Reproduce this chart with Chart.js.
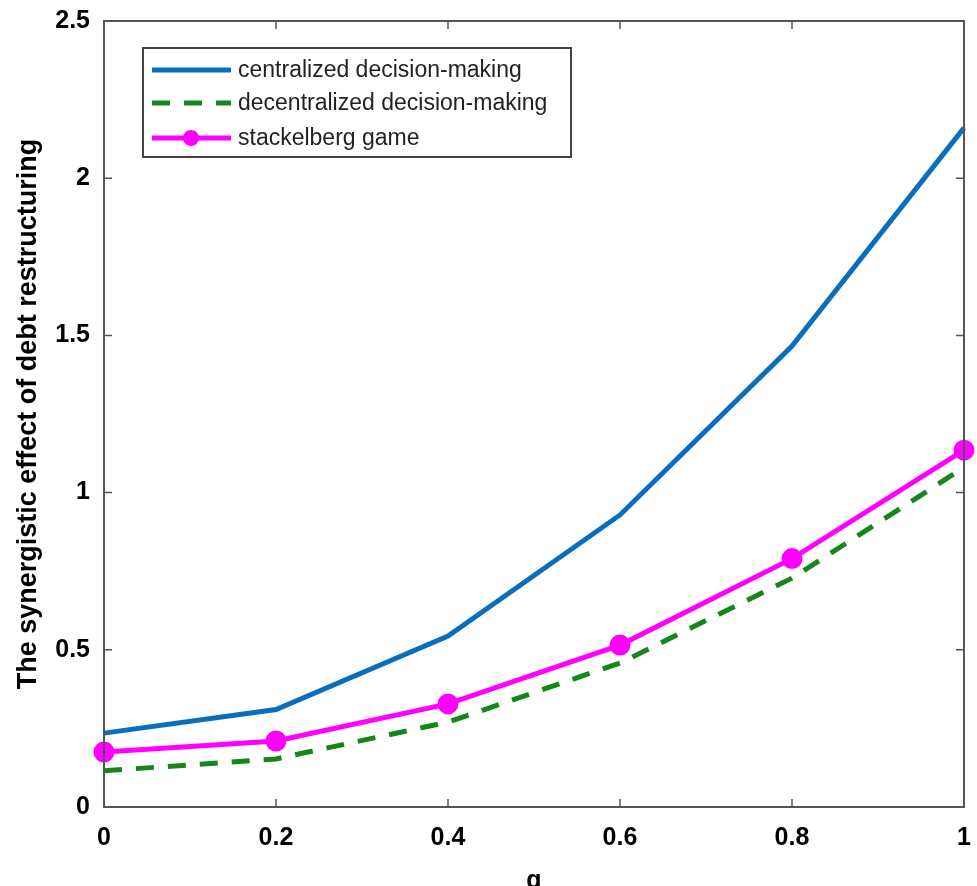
<!DOCTYPE html>
<html>
<head>
<meta charset="utf-8">
<script src="https://cdn.jsdelivr.net/npm/chart.js@4/dist/chart.umd.min.js"></script>
<style>
  html, body { margin: 0; padding: 0; background: #fff; }
  #wrap { width: 977px; height: 886px; }
</style>
</head>
<body>
<div id="wrap"><canvas id="graph"></canvas></div>
<script>
// ค่าแกน x (q)
const qValues = [0, 0.2, 0.4, 0.6, 0.8, 1];

// ค่าที่อ่านจากรูป
const centralized = [0.235, 0.31, 0.544, 0.929, 1.466, 2.16];
const decentralized = [0.115, 0.153, 0.27, 0.458, 0.728, 1.08];
const stackelberg = [0.175, 0.21, 0.328, 0.515, 0.79, 1.135];

const seriesNames = ["centralized decision-making", "decentralized decision-making", "stackelberg game"];
const xTicks = [0, 0.2, 0.4, 0.6, 0.8, 1];
const yTicks = [0, 0.5, 1, 1.5, 2, 2.5];

function toPoints(ys) {
    return qValues.map((q, i) => ({ x: q, y: ys[i] }));
}

const tickFont = { family: "'Liberation Sans', Arial, sans-serif", size: 25, weight: "bold" };

// กรอบ + ขีด tick ด้านใน แบบ MATLAB
const boxTicks = {
    id: "boxTicks",
    afterDraw(chart) {
        const { ctx, chartArea: a, scales } = chart;
        ctx.save();
        ctx.strokeStyle = "#555";
        ctx.lineWidth = 2;
        ctx.strokeRect(a.left, a.top, a.right - a.left, a.bottom - a.top);
        ctx.lineWidth = 1.5;
        const len = 8;
        xTicks.forEach(v => {
            const px = scales.x.getPixelForValue(v);
            ctx.beginPath();
            ctx.moveTo(px, a.bottom); ctx.lineTo(px, a.bottom - len);
            ctx.moveTo(px, a.top); ctx.lineTo(px, a.top + len);
            ctx.stroke();
        });
        yTicks.forEach(v => {
            const py = scales.y.getPixelForValue(v);
            ctx.beginPath();
            ctx.moveTo(a.left, py); ctx.lineTo(a.left + len, py);
            ctx.moveTo(a.right, py); ctx.lineTo(a.right - len, py);
            ctx.stroke();
        });
        ctx.restore();
    }
};

// legend ในพื้นที่กราฟ
const innerLegend = {
    id: "innerLegend",
    afterDraw(chart) {
        const { ctx, chartArea: a } = chart;
        const x0 = a.left + 39, y0 = a.top + 27, w = 428, h = 109;
        ctx.save();
        ctx.fillStyle = "#fff";
        ctx.fillRect(x0, y0, w, h);
        ctx.strokeStyle = "#444";
        ctx.lineWidth = 2;
        ctx.strokeRect(x0, y0, w, h);
        ctx.font = "23px 'Liberation Sans', Arial, sans-serif";
        ctx.textBaseline = "middle";
        const rowY = [y0 + 22, y0 + 55, y0 + 90];
        chart.data.datasets.forEach((ds, i) => {
            const y = rowY[i];
            ctx.strokeStyle = ds.borderColor;
            ctx.lineWidth = 5;
            ctx.setLineDash(ds.borderDash || []);
            ctx.beginPath();
            ctx.moveTo(x0 + 9, y);
            ctx.lineTo(x0 + 88, y);
            ctx.stroke();
            ctx.setLineDash([]);
            if (ds.pointRadius > 0) {
                ctx.fillStyle = ds.pointBackgroundColor;
                ctx.beginPath();
                ctx.arc(x0 + 48, y, ds.pointRadius, 0, Math.PI * 2);
                ctx.fill();
            }
            ctx.fillStyle = "#222";
            ctx.fillText(ds.label, x0 + 95, y + 1);
        });
        ctx.restore();
    }
};

const ctx = document.getElementById("graph").getContext("2d");

new Chart(ctx, {
    type: "line",
    data: {
        datasets: [
            {
                label: seriesNames[0],
                data: toPoints(centralized),
                borderColor: "#0A6EBD",
                borderWidth: 5,
                pointRadius: 0,
                tension: 0,
                clip: false
            },
            {
                label: seriesNames[1],
                data: toPoints(decentralized),
                borderColor: "#14861A",
                borderWidth: 5,
                borderDash: [18, 14],
                pointRadius: 0,
                tension: 0,
                clip: false
            },
            {
                label: seriesNames[2],
                data: toPoints(stackelberg),
                borderColor: "#FF00FF",
                backgroundColor: "#FF00FF",
                pointBackgroundColor: "#FF00FF",
                pointBorderColor: "#FF00FF",
                borderWidth: 5,
                pointRadius: 8,
                tension: 0,
                clip: false
            }
        ]
    },
    options: {
        responsive: true,
        maintainAspectRatio: false,
        animation: false,
        layout: { padding: { top: 21, right: 12, left: 0, bottom: 0 } },
        scales: {
            x: {
                type: "linear",
                min: 0,
                max: 1,
                afterBuildTicks: s => { s.ticks = xTicks.map(v => ({ value: v })); },
                afterFit: s => { s.height = 79; s.paddingLeft = 0; s.paddingRight = 0; },
                grid: { drawOnChartArea: false, drawTicks: false },
                border: { display: false },
                ticks: {
                    color: "#000",
                    font: tickFont,
                    padding: 16,
                    maxRotation: 0,
                    callback: v => String(v)
                },
                title: {
                    display: true,
                    text: "q",
                    color: "#000",
                    font: tickFont,
                    padding: { top: 0, bottom: -10 }
                }
            },
            y: {
                type: "linear",
                min: 0,
                max: 2.5,
                afterBuildTicks: s => { s.ticks = yTicks.map(v => ({ value: v })); },
                afterFit: s => { s.width = 104; s.paddingTop = 0; s.paddingBottom = 0; },
                grid: { drawOnChartArea: false, drawTicks: false },
                border: { display: false },
                ticks: {
                    color: "#000",
                    font: tickFont,
                    padding: 14,
                    callback: v => String(v)
                },
                title: {
                    display: true,
                    text: "The synergistic effect of debt restructuring",
                    color: "#000",
                    font: { family: "'Liberation Sans', Arial, sans-serif", size: 27, weight: "bold" },
                    padding: { top: 12, bottom: 0 }
                }
            }
        },
        plugins: {
            legend: { display: false },
            tooltip: { enabled: false }
        }
    },
    plugins: [boxTicks, innerLegend]
});
</script>
</body>
</html>
